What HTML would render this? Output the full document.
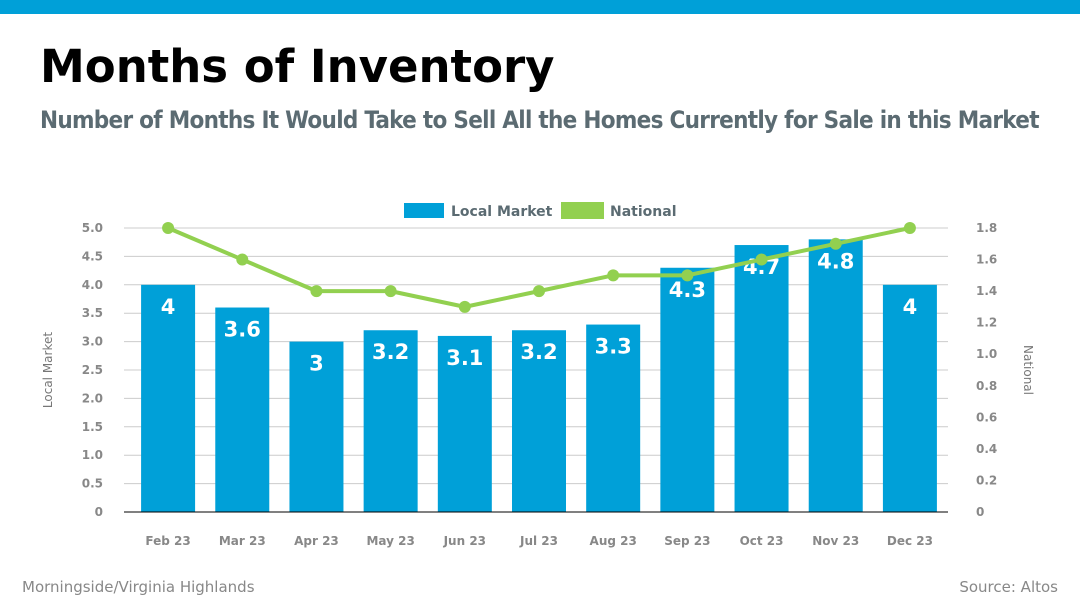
<!DOCTYPE html>
<html><head><meta charset="utf-8">
<style>
body{margin:0;width:1080px;height:607px;background:#fff;overflow:hidden;font-family:"DejaVu Sans","Liberation Sans",sans-serif;position:relative}
.bar{position:absolute;left:0;top:0;width:1080px;height:14px;background:#00a0d8}
h1{position:absolute;left:40px;top:40px;margin:0;font-size:45px;font-weight:bold;color:#000;font-family:"DejaVu Sans",sans-serif}
h2{position:absolute;left:40px;top:106px;margin:0;font-size:24px;font-weight:bold;color:#5b6b72;font-family:"DejaVu Sans Condensed","DejaVu Sans",sans-serif;letter-spacing:-0.72px;white-space:nowrap}
.foot{position:absolute;top:578px;font-size:15px;color:#888}
</style></head><body>
<div class="bar"></div>
<h1>Months of Inventory</h1>
<h2>Number of Months It Would Take to Sell All the Homes Currently for Sale in this Market</h2>
<div class="foot" style="left:22px">Morningside/Virginia Highlands</div>
<div class="foot" style="right:22px">Source: Altos</div>
<svg id="chart" width="1080" height="607" style="position:absolute;left:0;top:0"></svg>
<script>
const categories=["Feb 23","Mar 23","Apr 23","May 23","Jun 23","Jul 23","Aug 23","Sep 23","Oct 23","Nov 23","Dec 23"];
const localValues=[4,3.6,3,3.2,3.1,3.2,3.3,4.3,4.7,4.8,4];
const nationalValues=[1.8,1.6,1.4,1.4,1.3,1.4,1.5,1.5,1.6,1.7,1.8];
const leftTicks=["0","0.5","1.0","1.5","2.0","2.5","3.0","3.5","4.0","4.5","5.0"];
const rightTicks=["0","0.2","0.4","0.6","0.8","1.0","1.2","1.4","1.6","1.8"];
const NS="http://www.w3.org/2000/svg";
const svg=document.getElementById('chart');
const x0=124,x1=948,yB=512,yT=228;
const bandL=131,bandR=947;
const yL=v=>yB-(yB-yT)*v/5;
const yR=v=>yB-(yB-yT)*v/1.8;
const step=(bandR-bandL)/categories.length;
const xC=i=>bandL+step*(i+0.5);
function mk(t,a,txt){const e=document.createElementNS(NS,t);for(const k in a)e.setAttribute(k,a[k]);if(txt!==undefined)e.textContent=txt;svg.appendChild(e);return e;}
leftTicks.forEach(t=>{const v=parseFloat(t),y=yL(v);
 const g=mk('line',{x1:x0,x2:x1,y1:y,y2:y,stroke:v===0?'#000':'#ccc','stroke-width':1});
 
 
 const l=mk('text',{x:103,y:y+4,'text-anchor':'end','font-size':12,'font-weight':'bold',fill:'#888'},t);
 
 
});
rightTicks.forEach(t=>{const y=yR(parseFloat(t));
 const l=mk('text',{x:976,y:y+4,'font-size':12,'font-weight':'bold',fill:'#888'},t);
 
 
});
categories.forEach((c,i)=>{const v=localValues[i];
 const r=mk('rect',{x:xC(i)-27,y:yL(v),width:54,height:yB-yL(v),fill:'#00a0d8'});
 
 
 const t=mk('text',{x:xC(i),y:yL(v)+29,'text-anchor':'middle','font-size':21,'font-weight':'bold',fill:'#fff'},String(v));
 
 
 const xl=mk('text',{x:xC(i),y:545,'text-anchor':'middle','font-size':12,'font-weight':'bold',fill:'#888'},c);
 
 
});
const ax=mk('line',{x1:x0,x2:x1,y1:yB,y2:yB,stroke:'#000','stroke-width':1});


const pl=mk('polyline',{points:nationalValues.map((v,i)=>xC(i)+','+yR(v)).join(' '),fill:'none',stroke:'#92d050','stroke-width':4,'stroke-linejoin':'round'});


nationalValues.forEach((v,i)=>{const p=mk('circle',{cx:xC(i),cy:yR(v),r:6,fill:'#92d050'});
 
 });
const lt=mk('text',{x:52,y:370,'text-anchor':'middle','font-size':12,fill:'#777',transform:'rotate(-90 52 370)'},'Local Market');


const rt=mk('text',{x:1024,y:370,'text-anchor':'middle','font-size':12,fill:'#777',transform:'rotate(90 1024 370)'},'National');


const l1=mk('rect',{x:404,y:203,width:40,height:15,fill:'#00a0d8'});


const l1t=mk('text',{x:451,y:216,'font-size':14,'font-weight':'bold',fill:'#5b6b72'},'Local Market');


const l2=mk('rect',{x:561,y:202,width:43,height:17,fill:'#92d050'});


const l2t=mk('text',{x:610,y:216,'font-size':14,'font-weight':'bold',fill:'#5b6b72'},'National');


</script>
</body></html>
